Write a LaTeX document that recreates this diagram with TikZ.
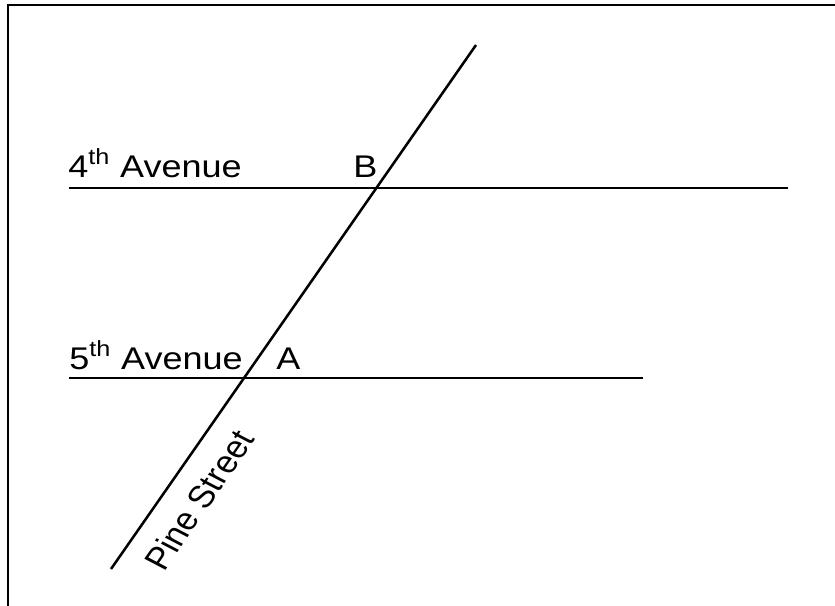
\documentclass[tikz,border=0pt]{standalone}
\usepackage{fontspec}
\setmainfont{Liberation Sans}
\begin{document}
\begin{tikzpicture}[x=0.75pt,y=-0.75pt,
  street/.style={line width=1.9pt,black},
  lbl/.style={font=\fontsize{23.5pt}{27pt}\selectfont,inner sep=0pt,xscale=1.15}]
\clip (0,0) rectangle (835,606);
\useasboundingbox (0,0) rectangle (835,606);
\draw[line width=1.3pt] (8,5) rectangle (845,615);
% streets
\coordinate (f4w) at (69,188);
\coordinate (f4e) at (788,188);
\coordinate (f5w) at (69,378);
\coordinate (f5e) at (643,378);
\coordinate (ps) at (111,569);
\coordinate (pn) at (476,45);
\draw[street] (f4w) -- (f4e);
\draw[street] (f5w) -- (f5e);
\draw[street] (ps) -- (pn);
% labels
\node[lbl,anchor=base west] (l4) at (68,177) {4\textsuperscript{th} Avenue};
\node[lbl,anchor=base west] (lB) at (353,177) {B};
\node[lbl,anchor=base west] (l5) at (69,369) {5\textsuperscript{th} Avenue};
\node[lbl,anchor=base west] (lA) at (276,369) {A};
\node[lbl,anchor=center,rotate=59] (lP) at (199,500) {Pine Street};
\end{tikzpicture}
\end{document}
